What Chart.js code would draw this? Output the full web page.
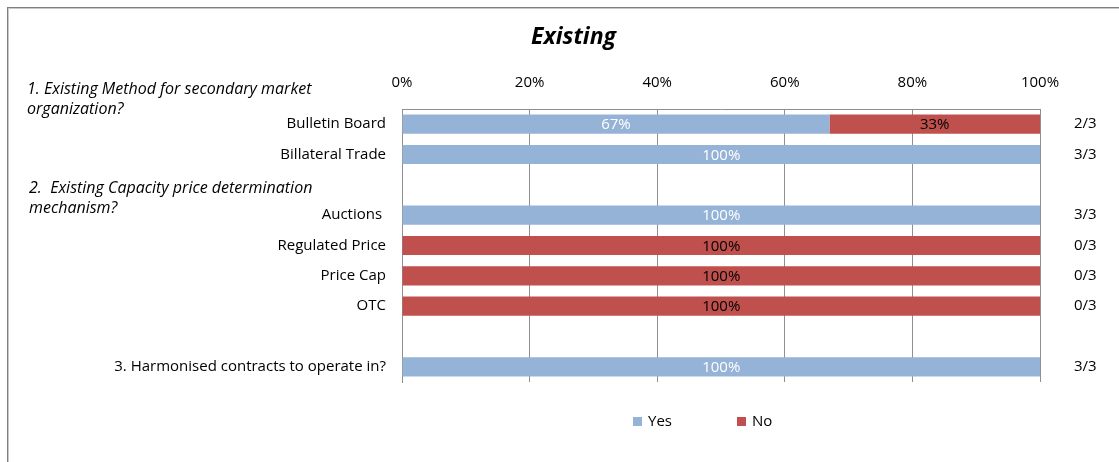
<!DOCTYPE html>
<html>
<head>
<meta charset="utf-8">
<script src="https://cdn.jsdelivr.net/npm/chart.js@4"></script>
<style>
    html, body { margin: 0; padding: 0; background: #fff; overflow: hidden; }
    #frame {
        position: absolute; left: 7px; top: 7px; width: 1140px; height: 470px;
        border-top: 1px solid #7f7f7f; border-left: 1px solid #7f7f7f;
        box-shadow: inset 1px 1px 0 #c9c9c9;
    }
    #chart { position: absolute; left: 0; top: 0; }
</style>
</head>
<body>
<div id="frame"><canvas id="chart" width="1131" height="456"></canvas></div>
<script>
const FONT = '"Open Sans", Lato, sans-serif';

// Survey answers, share of respondents in %
const categories = ['Bulletin Board', 'Billateral Trade', '', 'Auctions ', 'Regulated Price', 'Price Cap', 'OTC', '', '3. Harmonised contracts to operate in?'];
const yesValues = [67, 100, null, 100, 0, 0, 0, null, 100];
const noValues  = [33, 0, null, 0, 100, 100, 100, null, 0];
const ratios    = ['2/3', '3/3', '', '3/3', '0/3', '0/3', '0/3', '', '3/3'];
const xTicks    = [0, 20, 40, 60, 80, 100];
const groupHeadings = [
    ['1. Existing Method for secondary market', 'organization?'],
    ['2.  Existing Capacity price determination', 'mechanism?']
];

const BLUE = '#95B3D7';
const RED = '#C0504D';
const GRID = '#8f8f8f';

// percentages inside the bars, question headings and the legend
const extrasPlugin = {
    id: 'extras',
    afterDatasetsDraw(chart) {
        const {ctx, scales} = chart;
        ctx.save();

        // labels centred in each segment
        ctx.font = '15px ' + FONT;
        ctx.textAlign = 'center';
        ctx.textBaseline = 'middle';
        chart.data.datasets.forEach((ds, di) => {
            chart.getDatasetMeta(di).data.forEach((bar, i) => {
                const v = ds.data[i];
                if (!v) return;
                ctx.fillStyle = di === 0 ? '#ffffff' : '#000000';
                ctx.fillText(v + '%', (bar.x + bar.base) / 2, bar.y + 1);
            });
        });

        // question headings
        ctx.fillStyle = '#000';
        ctx.font = 'italic 16px ' + FONT;
        ctx.textAlign = 'left';
        const headPos = [{x: 19, row: 0, dy: -35}, {x: 21, row: 2, dy: 4}];
        groupHeadings.forEach((lines, gi) => {
            const p = headPos[gi];
            const y0 = scales.y.getPixelForValue(p.row) + p.dy;
            lines.forEach((t, li) => ctx.fillText(t, p.x, y0 + li * 20));
        });

        // legend
        ctx.font = '15px ' + FONT;
        const legX = [625, 729];
        chart.data.datasets.forEach((ds, di) => {
            ctx.fillStyle = ds.backgroundColor;
            ctx.fillRect(legX[di], 409, 9, 9);
            ctx.fillStyle = '#000';
            ctx.fillText(ds.label, legX[di] + 15, 414);
        });
        ctx.restore();
    }
};

new Chart(document.getElementById('chart'), {
    type: 'bar',
    data: {
        labels: categories,
        datasets: [
            { label: 'Yes', data: yesValues, backgroundColor: BLUE, barPercentage: 0.63, categoryPercentage: 1 },
            { label: 'No', data: noValues, backgroundColor: RED, barPercentage: 0.63, categoryPercentage: 1 }
        ]
    },
    options: {
        indexAxis: 'y',
        responsive: false,
        animation: false,
        layout: { padding: { left: 0, right: 0, top: 0, bottom: 82 } },
        plugins: {
            legend: { display: false },
            tooltip: { enabled: false },
            title: {
                display: true,
                text: 'Existing',
                color: '#000',
                font: { family: FONT, size: 23, weight: 'bold', style: 'italic', lineHeight: 1.2 },
                padding: { top: 16, bottom: 0 }
            }
        },
        scales: {
            x: {
                position: 'top',
                stacked: true,
                min: 0,
                max: 100,
                afterBuildTicks: (s) => { s.ticks = xTicks.map(v => ({ value: v })); },
                afterFit: (s) => { s.height = 57.4; },
                ticks: { padding: 17, color: '#000', font: { family: FONT, size: 15 }, callback: v => v + '%' },
                grid: { color: GRID, drawTicks: false },
                border: { color: GRID }
            },
            y: {
                stacked: true,
                afterFit: (s) => { s.width = 394; },
                ticks: { padding: 16, color: '#000', font: { family: FONT, size: 15 }, autoSkip: false },
                grid: { display: false, drawTicks: false },
                border: { color: GRID }
            },
            // answer counts on the right-hand side
            y2: {
                type: 'category',
                position: 'right',
                labels: ratios,
                offset: true,
                afterFit: (s) => { s.width = 99; },
                ticks: { padding: 34, color: '#000', font: { family: FONT, size: 15 }, autoSkip: false },
                grid: { display: false, drawTicks: false },
                border: { display: false }
            }
        }
    },
    plugins: [extrasPlugin]
});
</script>
</body>
</html>
